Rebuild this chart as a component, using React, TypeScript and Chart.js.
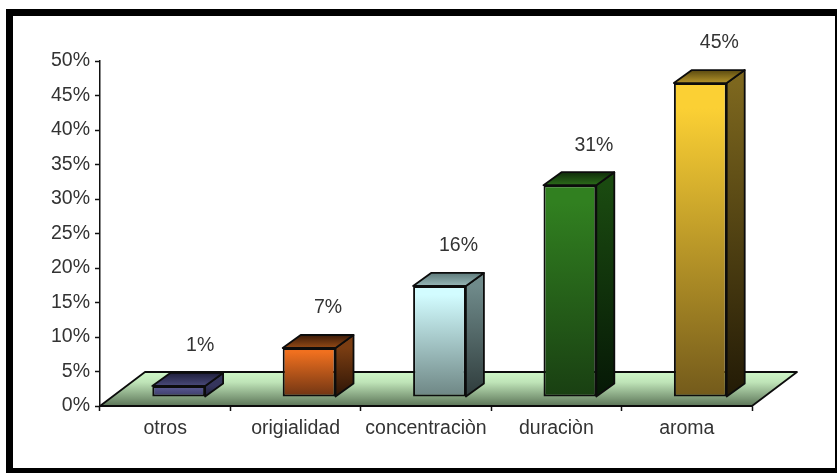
import React, { useEffect, useRef } from "react";
import { Chart, registerables } from "chart.js";

Chart.register(...registerables);

const categories = ["otros", "origialidad", "concentraciòn", "duraciòn", "aroma"];
const barValues = [1.6, 7.1, 16.1, 30.7, 45.5];
const barLabels = ["1%", "7%", "16%", "31%", "45%"];
const frontTop = ["#5a5a92", "#f0701f", "#d2fcff", "#318020", "#fbd034"];
const frontBottom = ["#3a3a66", "#6e3413", "#6d8583", "#193f12", "#735a1b"];
const sideTop = ["#35355c", "#7a3d12", "#6f8a8a", "#1a4a10", "#7d671e"];
const sideBottom = ["#1e1e38", "#2c1406", "#2f3c3c", "#061806", "#221a06"];
const topBack = ["#1f1f3c", "#3c1b08", "#5e7a7a", "#0f2c0a", "#5a4a10"];
const topFront = ["#4a4a7a", "#944a16", "#96b6b6", "#2c6c1a", "#b4942a"];

const FONT = "'Liberation Sans', Arial, sans-serif";
const INK = "#333333";
const TEXT_SIZE = 19.5;
const SHIFT_X = 13.5;
const SHIFT_Y = -9;
const DEPTH_X = 18;
const DEPTH_Y = -13;
const FLOOR_X = 45;
const FLOOR_Y = -34;
const LABEL_NUDGE = [2.5, 0, 0, 5, 0];

function face(ctx: CanvasRenderingContext2D, pts: number[][], fill: CanvasGradient | string) {
  ctx.beginPath();
  pts.forEach((p, i) => (i ? ctx.lineTo(p[0], p[1]) : ctx.moveTo(p[0], p[1])));
  ctx.closePath();
  ctx.fillStyle = fill;
  ctx.fill();
  ctx.strokeStyle = "#0c0c0c";
  ctx.lineWidth = 1.8;
  ctx.lineJoin = "round";
  ctx.stroke();
}

const floorAndBoxes = {
  id: "floorAndBoxes",
  beforeDatasetsDraw(chart: any) {
    const { ctx, chartArea: a } = chart;
    const g = ctx.createLinearGradient(0, a.bottom + FLOOR_Y, 0, a.bottom);
    g.addColorStop(0, "#cff7c8");
    g.addColorStop(0.3, "#bfe4b8");
    g.addColorStop(1, "#5c7558");
    ctx.save();
    face(
      ctx,
      [
        [a.left, a.bottom],
        [a.right, a.bottom],
        [a.right + FLOOR_X, a.bottom + FLOOR_Y],
        [a.left + FLOOR_X, a.bottom + FLOOR_Y],
      ],
      g
    );
    ctx.restore();
  },
  beforeDatasetDraw(chart: any, args: any) {
    const { ctx } = chart;
    ctx.save();
    ctx.translate(SHIFT_X, SHIFT_Y);
    args.meta.data.forEach((el: any, i: number) => {
      const { x, y, base, width } = el.getProps(["x", "y", "base", "width"], true);
      const l = x - width / 2;
      const r = x + width / 2;
      const sg = ctx.createLinearGradient(0, y, 0, base);
      sg.addColorStop(0, sideTop[i]);
      sg.addColorStop(1, sideBottom[i]);
      face(ctx, [[r, y], [r + DEPTH_X, y + DEPTH_Y], [r + DEPTH_X, base + DEPTH_Y], [r, base]], sg);
      const tg = ctx.createLinearGradient(0, y + DEPTH_Y, 0, y);
      tg.addColorStop(0, topBack[i]);
      tg.addColorStop(1, topFront[i]);
      face(ctx, [[l, y], [l + DEPTH_X, y + DEPTH_Y], [r + DEPTH_X, y + DEPTH_Y], [r, y]], tg);
    });
  },
  afterDatasetDraw(chart: any) {
    chart.ctx.restore();
  },
  afterDatasetsDraw(chart: any) {
    const { ctx } = chart;
    const meta = chart.getDatasetMeta(0);
    ctx.save();
    ctx.font = `${TEXT_SIZE}px ${FONT}`;
    ctx.fillStyle = INK;
    ctx.textAlign = "center";
    ctx.textBaseline = "middle";
    meta.data.forEach((el: any, i: number) => {
      ctx.fillText(barLabels[i], el.x + SHIFT_X + 19 + LABEL_NUDGE[i], el.y + SHIFT_Y - 40);
    });
    ctx.restore();
  },
};

export default function App() {
  const ref = useRef<HTMLCanvasElement>(null);
  useEffect(() => {
    const chart = new Chart(ref.current!, {
      type: "bar",
      plugins: [floorAndBoxes],
      data: {
        labels: categories,
        datasets: [
          {
            data: barValues,
            clip: false,
            barPercentage: 0.405,
            categoryPercentage: 1,
            borderWidth: 2,
            borderSkipped: false,
            borderColor: "#0c0c0c",
            backgroundColor: (c: any) => {
              if (c.dataIndex === undefined) return frontTop[0];
              const y = c.chart.scales.y;
              const solid = frontTop[c.dataIndex];
              if (!y) return solid;
              const top = y.getPixelForValue(barValues[c.dataIndex]);
              const bottom = y.getPixelForValue(0);
              if (!Number.isFinite(top) || !Number.isFinite(bottom)) return solid;
              const g = c.chart.ctx.createLinearGradient(0, top, 0, bottom);
              g.addColorStop(0, frontTop[c.dataIndex]);
              g.addColorStop(0.08, frontTop[c.dataIndex]);
              g.addColorStop(1, frontBottom[c.dataIndex]);
              return g;
            },
          },
        ],
      },
      options: {
        responsive: false,
        animation: false,
        layout: { padding: { top: 61, right: 85, left: 0, bottom: 0 } },
        plugins: { legend: { display: false }, tooltip: { enabled: false } },
        scales: {
          x: {
            afterFit: (s: any) => {
              s.height = 67;
            },
            border: { color: "#111", width: 1.5 },
            grid: { drawOnChartArea: false, offset: true, tickLength: 5, tickColor: "#111", tickWidth: 1.5 },
            ticks: { color: INK, font: { family: FONT, size: TEXT_SIZE }, padding: 6, maxRotation: 0, autoSkip: false },
          },
          y: {
            min: 0,
            max: 50,
            afterFit: (s: any) => {
              s.width = 100;
            },
            border: { color: "#111", width: 1.5 },
            grid: { drawOnChartArea: false, tickLength: 5, tickColor: "#111", tickWidth: 1.5 },
            ticks: {
              stepSize: 5,
              color: INK,
              font: { family: FONT, size: TEXT_SIZE },
              padding: 5,
              callback: (v: any) => `${v}%`,
            },
          },
        },
      },
    } as any);
    return () => chart.destroy();
  }, []);
  return (
    <div style={{ position: "fixed", inset: 0, background: "#fff", overflow: "hidden", filter: "blur(0.45px)" }}>
      <canvas ref={ref} width={837} height={473} style={{ position: "absolute", left: 0, top: 0 }} />
      <div
        style={{
          position: "absolute",
          left: 6,
          top: 9,
          width: 822,
          height: 452,
          borderStyle: "solid",
          borderColor: "#000",
          borderWidth: "7px 2px 5px 7px",
        }}
      />
    </div>
  );
}
